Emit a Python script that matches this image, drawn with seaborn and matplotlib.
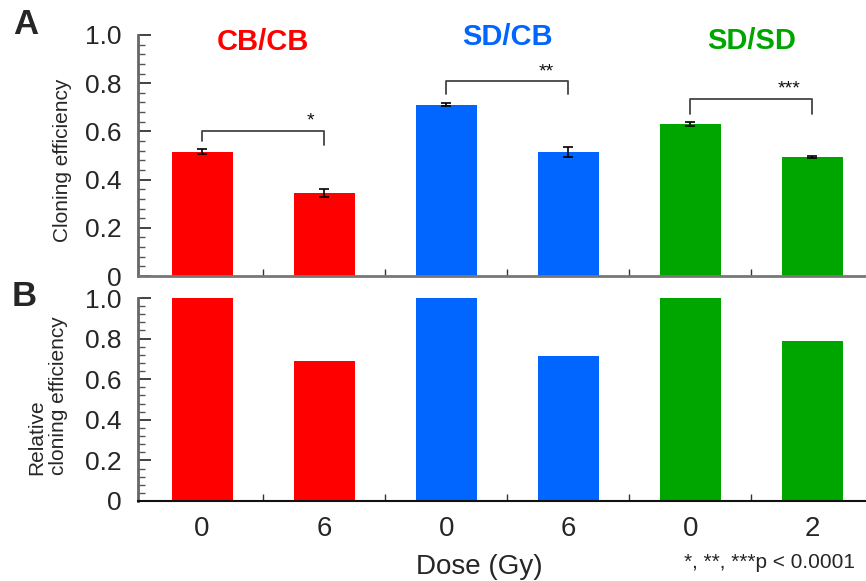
import matplotlib
matplotlib.use("Agg")
import matplotlib.pyplot as plt
import seaborn as sns
import pandas as pd
from matplotlib.ticker import MultipleLocator, FixedLocator

sns.set_theme(style="white")
plt.rcParams['font.family'] = ['Liberation Sans', 'DejaVu Sans']

groups = ["CB/CB", "CB/CB", "SD/CB", "SD/CB", "SD/SD", "SD/SD"]
doses = ["0", "6", "0", "6", "0", "2"]
cloning = [0.515, 0.345, 0.71, 0.515, 0.63, 0.495]
cloning_err = [0.010, 0.017, 0.006, 0.022, 0.008, 0.004]
relative = [1.0, 0.69, 1.0, 0.714, 1.0, 0.788]
group_names = ["CB/CB", "SD/CB", "SD/SD"]
group_colors = ["#FF0000", "#0066FF", "#00A600"]
stars = ["*", "**", "***"]

conds = [f"{g} {d}" for g, d in zip(groups, doses)]
df = pd.DataFrame({"cond": conds, "group": groups, "dose": doses,
                   "cloning": cloning, "err": cloning_err, "relative": relative})
palette = dict(zip(group_names, group_colors))

fig = plt.figure(figsize=(8.66, 5.81), dpi=100)
W, H = 866, 581
axA = fig.add_axes([138 / W, (H - 276) / H, 728 / W, 241 / H])
axB = fig.add_axes([138 / W, (H - 501) / H, 728 / W, 203 / H])

for ax, col in [(axA, "cloning"), (axB, "relative")]:
    sns.barplot(data=df, x="cond", y=col, hue="group", palette=palette,
                order=conds, dodge=False, width=0.5, errorbar=None,
                legend=False, ax=ax, saturation=1, linewidth=0)
    ax.set_xlim(-0.525, 5.44)
    ax.set_ylim(0, 1.0)
    ax.set_xlabel("")
    ax.set_ylabel("")
    ax.yaxis.set_minor_locator(MultipleLocator(0.04))
    ax.set_yticks([0, 0.2, 0.4, 0.6, 0.8, 1.0])
    ax.set_yticklabels(["0", "0.2", "0.4", "0.6", "0.8", "1.0"], fontsize=19)
    ax.tick_params(axis="y", which="major", direction="in", length=9, width=1.2,
                   color="#222222", pad=12, left=True)
    ax.tick_params(axis="y", which="minor", direction="in", length=5, width=1,
                   color="#555555", left=True)
    ax.xaxis.set_minor_locator(FixedLocator([0.5, 1.5, 2.5, 3.5, 4.5]))
    ax.tick_params(axis="x", which="minor", direction="in", length=5, width=1,
                   color="#333333", bottom=True)
    ax.tick_params(axis="x", which="major", length=0)
    for s in ["top", "right"]:
        ax.spines[s].set_visible(False)
    ax.spines["left"].set_color("#666666")
    ax.spines["left"].set_linewidth(2)
    ax.patch.set_alpha(0)

axA.spines["bottom"].set_color("#777777")
axA.spines["bottom"].set_linewidth(2)
axB.spines["bottom"].set_color("#111111")
axB.spines["bottom"].set_linewidth(1.5)

# error bars
axA.errorbar(range(len(conds)), cloning, yerr=cloning_err, fmt="none",
             ecolor="black", elinewidth=1.2, capsize=3.5, capthick=1.2, zorder=5)

axA.set_xticklabels([])
axB.set_xticklabels(doses, fontsize=20)
axB.tick_params(axis="x", which="major", pad=11)

# significance brackets
brackets = [(0, 1, 0.60, 0.56, 0.545, 0.89, 0.625),
            (2, 3, 0.81, 0.755, 0.755, 2.82, 0.83),
            (4, 5, 0.734, 0.672, 0.672, 4.81, 0.757)]
for (x0, x1, ytop, yl, yr, sx, sy), st in zip(brackets, stars):
    axA.plot([x0, x0, x1, x1], [yl, ytop, ytop, yr], color="#444444", lw=1.3,
             clip_on=False, zorder=6)
    axA.text(sx, sy, st, ha="center", va="baseline", fontsize=14, color="#111111")

# group titles
title_pos = [(0.5, 0.973), (2.5, 0.99), (4.5, 0.975)]
for (tx, ty), name, c in zip(title_pos, group_names, group_colors):
    axA.text(tx, ty, name, ha="center", va="center", fontsize=21,
             fontweight="bold", color=c, clip_on=False)

# axis labels
fig.text(63 / W, 1 - 160 / H, "Cloning efficiency", rotation=90,
         ha="center", va="center", fontsize=15)
fig.text(48 / W, 1 - 396 / H, "Relative\ncloning efficiency", rotation=90,
         ha="center", va="center", fontsize=15, linespacing=1.2,
         multialignment="left")
fig.text(479 / W, 1 - 567 / H, "Dose (Gy)", ha="center", va="center", fontsize=20)
fig.text(770 / W, 1 - 563 / H, "*, **, ***p < 0.0001", ha="center", va="center",
         fontsize=15)

# panel labels
fig.text(26 / W, 1 - 25 / H, "A", ha="center", va="center", fontsize=25,
         fontweight="bold")
fig.text(24 / W, 1 - 297 / H, "B", ha="center", va="center", fontsize=25,
         fontweight="bold")

fig.savefig("out.png", dpi=100)
